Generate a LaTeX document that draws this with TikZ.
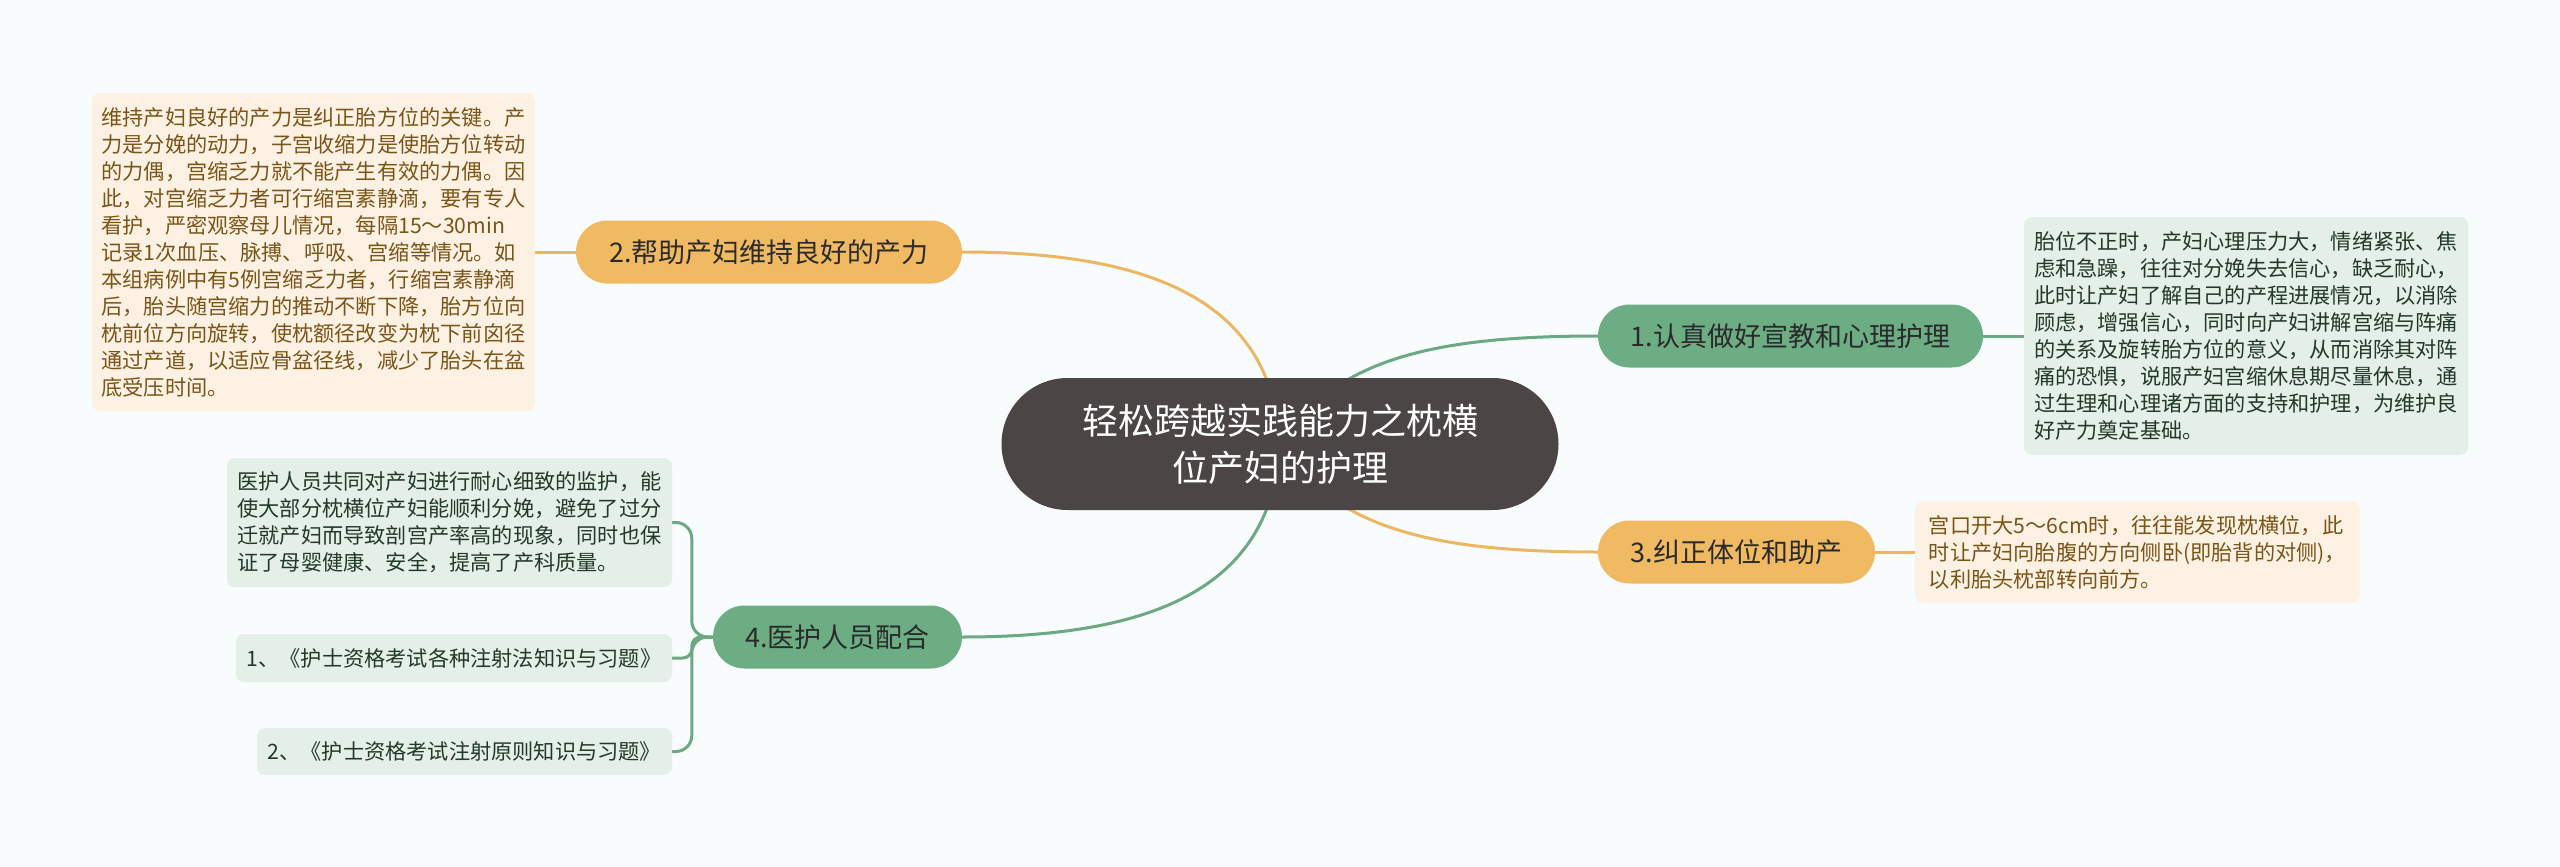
\documentclass[tikz,border=0pt]{standalone}
\usepackage{fontspec}
\setmainfont{Noto Sans CJK SC}
\usetikzlibrary{calc}
\definecolor{bgc}{HTML}{F8FCFC}
\definecolor{cdark}{HTML}{4B4645}
\definecolor{orng}{HTML}{F0BA63}
\definecolor{orngl}{HTML}{EDB662}
\definecolor{grn}{HTML}{6DAD84}
\definecolor{grnl}{HTML}{6BA883}
\definecolor{lorng}{HTML}{FDF1E3}
\definecolor{lotext}{HTML}{7A5518}
\definecolor{lgrn}{HTML}{E4EFE7}
\definecolor{lgtext}{HTML}{22382B}
\definecolor{btext}{HTML}{2A2A2A}
\pgfdeclarelayer{bglayer}
\pgfdeclarelayer{linelayer}
\pgfsetlayers{bglayer,linelayer,main}
\begin{document}
\begin{tikzpicture}[x=1pt,y=-1pt,
  centernode/.style={fill=cdark, text=white, rounded corners=66pt, minimum width=557pt, minimum height=132pt, align=center, inner sep=0pt, font=\fontsize{36}{47}\selectfont},
  pillo/.style={fill=orng, text=btext, rounded corners=31.5pt, minimum height=63pt, inner sep=0pt, font=\fontsize{27}{32}\selectfont},
  pillg/.style={fill=grn, text=btext, rounded corners=31.5pt, minimum height=63pt, inner sep=0pt, font=\fontsize{27}{32}\selectfont},
  leafo/.style={fill=lorng, text=lotext, rounded corners=8pt, align=left, inner sep=0pt, font=\fontsize{21.2}{27}\selectfont},
  leafg/.style={fill=lgrn, text=lgtext, rounded corners=8pt, align=left, inner sep=0pt, font=\fontsize{21.2}{27}\selectfont},
  oline/.style={draw=orngl, line width=3pt},
  gline/.style={draw=grnl, line width=3pt},
]
\useasboundingbox (0,0) rectangle (2560,867);
\begin{pgfonlayer}{bglayer}
\fill[bgc] (0,0) rectangle (2560,867);
\end{pgfonlayer}

\node[centernode] (c) at (1280,444) {轻松跨越实践能力之枕横\\位产妇的护理};

\node[pillg, minimum width=385pt] (b1) at (1790.5,336) {1.认真做好宣教和心理护理};
\node[pillo, minimum width=386pt] (b2) at (769,252) {2.帮助产妇维持良好的产力};
\node[pillo, minimum width=277pt] (b3) at (1736.5,552) {3.纠正体位和助产};
\node[pillg, minimum width=249pt] (b4) at (837.5,637) {4.医护人员配合};

\node[leafg, minimum width=444pt, minimum height=238pt] (l1) at (2246,336) {胎位不正时，产妇心理压力大，情绪紧张、焦\\虑和急躁，往往对分娩失去信心，缺乏耐心，\\此时让产妇了解自己的产程进展情况，以消除\\顾虑，增强信心，同时向产妇讲解宫缩与阵痛\\的关系及旋转胎方位的意义，从而消除其对阵\\痛的恐惧，说服产妇宫缩休息期尽量休息，通\\过生理和心理诸方面的支持和护理，为维护良\\好产力奠定基础。};

\node[leafo, minimum width=443pt, minimum height=318pt] (l2) at (313.5,252) {维持产妇良好的产力是纠正胎方位的关键。产\\力是分娩的动力，子宫收缩力是使胎方位转动\\的力偶，宫缩乏力就不能产生有效的力偶。因\\此，对宫缩乏力者可行缩宫素静滴，要有专人\\看护，严密观察母儿情况，每隔15～30min\\记录1次血压、脉搏、呼吸、宫缩等情况。如\\本组病例中有5例宫缩乏力者，行缩宫素静滴\\后，胎头随宫缩力的推动不断下降，胎方位向\\枕前位方向旋转，使枕额径改变为枕下前囟径\\通过产道，以适应骨盆径线，减少了胎头在盆\\底受压时间。};

\node[leafo, minimum width=445pt, minimum height=101pt] (l3) at (2137.5,552) {宫口开大5～6cm时，往往能发现枕横位，此\\时让产妇向胎腹的方向侧卧(即胎背的对侧)，\\以利胎头枕部转向前方。};

\node[leafg, minimum width=445pt, minimum height=129pt] (l4a) at (449.5,522.5) {医护人员共同对产妇进行耐心细致的监护，能\\使大部分枕横位产妇能顺利分娩，避免了过分\\迁就产妇而导致剖宫产率高的现象，同时也保\\证了母婴健康、安全，提高了产科质量。};
\node[leafg, minimum width=436pt, minimum height=48pt] (l4b) at (454,658) {1、《护士资格考试各种注射法知识与习题》};
\node[leafg, minimum width=415pt, minimum height=47pt] (l4c) at (464.5,751.5) {2、《护士资格考试注射原则知识与习题》};

\begin{pgfonlayer}{linelayer}
\draw[oline] (c.center) .. controls (1272,300) and (1150,252) .. (b2.east);
\draw[gline] (c.center) .. controls (1335,360) and (1430,336) .. (b1.west);
\draw[gline] (c.center) .. controls (1272,590) and (1150,637) .. (b4.east);
\draw[oline] (c.center) .. controls (1335,528) and (1430,552) .. (b3.west);
\draw[oline] (b2.west) -- (l2.east);
\draw[gline] (b1.east) -- (l1.west);
\draw[oline] (b3.east) -- (l3.west);
\draw[gline, rounded corners=16pt] (b4.west) -- ++(-21,0) |- (l4a.east);
\draw[gline, rounded corners=9pt] (b4.west) -- ++(-21,0) |- (l4b.east);
\draw[gline, rounded corners=16pt] (b4.west) -- ++(-21,0) |- (l4c.east);
\end{pgfonlayer}
\end{tikzpicture}
\end{document}
